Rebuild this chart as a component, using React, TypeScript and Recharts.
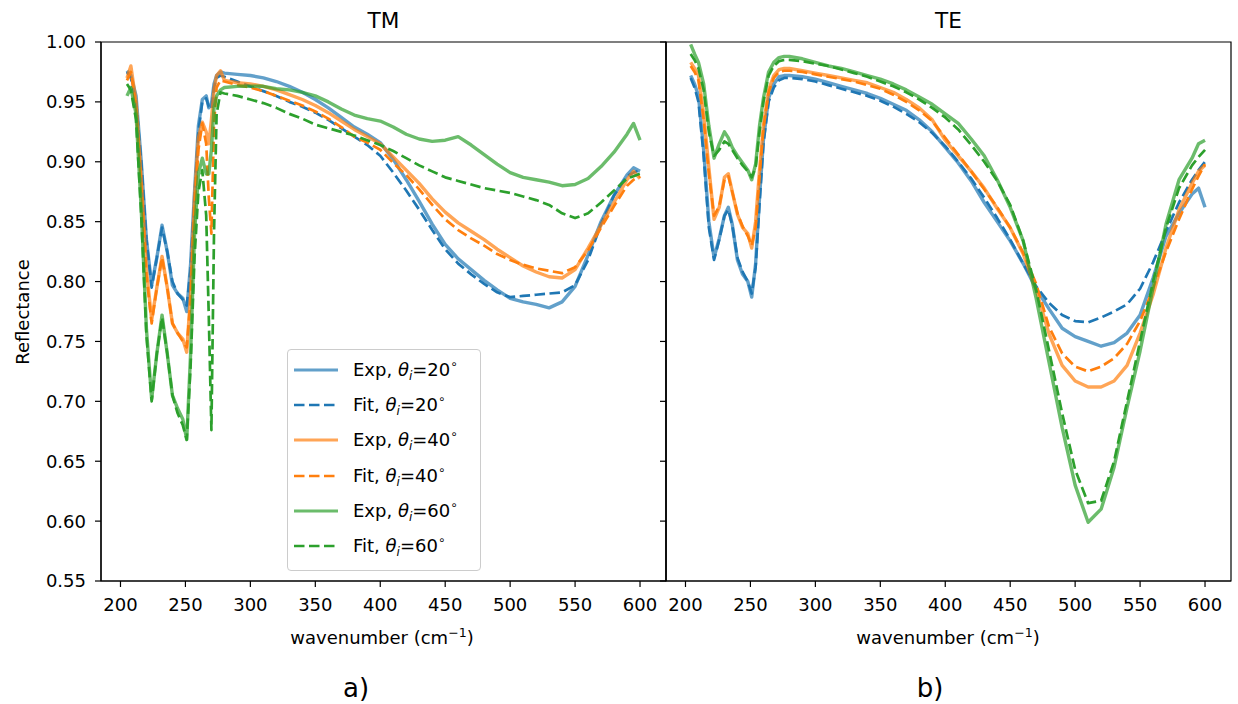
import React from 'react';
import { LineChart, Line, XAxis, YAxis, ReferenceArea, Legend } from 'recharts';

const FONT = '"DejaVu Sans", "Liberation Sans", sans-serif';

// ---------- axes ----------
const X_DOMAIN: [number, number] = [185, 620];
const Y_DOMAIN: [number, number] = [0.55, 1.0];
const xTicks = [200, 250, 300, 350, 400, 450, 500, 550, 600];
const yTicks = [0.55, 0.6, 0.65, 0.7, 0.75, 0.8, 0.85, 0.9, 0.95, 1.0];

// ---------- TM panel (a) ----------
const tmWavenumber = [
  205, 208, 212, 216, 220, 224, 228, 232, 236, 240, 244, 248, 251, 254, 257, 260, 263, 266, 268, 270, 272, 274, 277, 280,
  290, 300, 310, 320, 330, 340, 350, 360, 370, 380, 390, 400, 410, 420, 430, 440, 450, 460, 470, 480, 490, 500, 510, 520,
  530, 540, 550, 560, 570, 580, 590, 595, 600,
];
const tmExp20 = [
  0.976, 0.972, 0.955, 0.9, 0.835, 0.797, 0.82, 0.847, 0.825, 0.797, 0.79, 0.786, 0.775, 0.815, 0.875, 0.93, 0.952, 0.955, 0.945, 0.948, 0.965, 0.972, 0.975, 0.974,
  0.973, 0.972, 0.97, 0.967, 0.963, 0.958, 0.952, 0.945, 0.937, 0.929, 0.923, 0.916, 0.902, 0.885, 0.867, 0.848, 0.831, 0.819, 0.81, 0.801, 0.793, 0.786, 0.783, 0.781,
  0.778, 0.783, 0.796, 0.822, 0.85, 0.872, 0.889, 0.895, 0.892,
];
const tmFit20 = [
  0.975, 0.97, 0.95, 0.9, 0.835, 0.795, 0.82, 0.845, 0.825, 0.8, 0.79, 0.785, 0.78, 0.81, 0.87, 0.925, 0.95, 0.953, 0.946, 0.944, 0.962, 0.97, 0.972, 0.971,
  0.967, 0.963, 0.959, 0.955, 0.95, 0.946, 0.941, 0.935, 0.928, 0.921, 0.914, 0.905, 0.891, 0.876, 0.86, 0.843, 0.827, 0.815, 0.806, 0.798, 0.791, 0.787, 0.788, 0.789,
  0.79, 0.791, 0.797, 0.818, 0.848, 0.872, 0.888, 0.891, 0.893,
];
const tmExp40 = [
  0.97, 0.98, 0.95, 0.885, 0.81, 0.768, 0.795, 0.821, 0.795, 0.765, 0.757, 0.752, 0.741, 0.79, 0.87, 0.92, 0.933, 0.925, 0.915, 0.935, 0.96, 0.972, 0.976, 0.968,
  0.966, 0.965, 0.963, 0.96, 0.956, 0.952, 0.947, 0.941, 0.934, 0.927, 0.921, 0.915, 0.904, 0.893, 0.882, 0.869, 0.858, 0.849, 0.842, 0.835, 0.827, 0.82, 0.813, 0.808,
  0.804, 0.803, 0.81, 0.828, 0.847, 0.866, 0.885, 0.892, 0.886,
];
const tmFit40 = [
  0.968, 0.975, 0.945, 0.88, 0.805, 0.765, 0.795, 0.82, 0.795, 0.765, 0.757, 0.75, 0.745, 0.785, 0.86, 0.91, 0.932, 0.915, 0.87, 0.84, 0.93, 0.962, 0.968, 0.967,
  0.964, 0.962, 0.959, 0.955, 0.951, 0.947, 0.942, 0.936, 0.929, 0.921, 0.916, 0.91, 0.899, 0.889, 0.877, 0.864, 0.852, 0.843, 0.836, 0.83, 0.823, 0.818, 0.814, 0.811,
  0.809, 0.807, 0.812, 0.826, 0.845, 0.863, 0.88, 0.885, 0.888,
];
const tmExp60 = [
  0.955, 0.962, 0.94, 0.86, 0.76, 0.702, 0.74, 0.772, 0.74, 0.705, 0.694, 0.685, 0.668, 0.74, 0.84, 0.89, 0.903, 0.89, 0.89, 0.91, 0.945, 0.955, 0.96, 0.962,
  0.963, 0.963, 0.963, 0.961, 0.96, 0.958, 0.955, 0.95, 0.944, 0.939, 0.936, 0.934, 0.929, 0.923, 0.919, 0.917, 0.918, 0.921, 0.914, 0.906, 0.898, 0.891, 0.887, 0.885,
  0.883, 0.88, 0.881, 0.886, 0.896, 0.908, 0.923, 0.932, 0.918,
];
const tmFit60 = [
  0.965, 0.96, 0.935, 0.855, 0.755, 0.7, 0.74, 0.77, 0.74, 0.705, 0.69, 0.68, 0.668, 0.73, 0.82, 0.875, 0.893, 0.855, 0.77, 0.676, 0.84, 0.94, 0.958, 0.957,
  0.955, 0.952, 0.949, 0.945, 0.94, 0.936, 0.931, 0.928, 0.925, 0.922, 0.918, 0.914, 0.909, 0.903, 0.897, 0.892, 0.887, 0.884, 0.881, 0.878, 0.876, 0.874, 0.871, 0.868,
  0.864, 0.857, 0.853, 0.857, 0.866, 0.876, 0.886, 0.888, 0.89,
];

// ---------- TE panel (b) ----------
const teWavenumber = [
  204, 207, 210, 214, 218, 222, 226, 230, 233, 236, 240, 244, 248, 251, 254, 257, 260, 264, 268, 272, 276, 280,
  290, 300, 310, 320, 330, 340, 350, 360, 370, 380, 390, 400, 410, 420, 430, 440, 450, 460, 470, 480, 490, 500, 510, 520,
  530, 540, 550, 560, 570, 580, 590, 595, 600,
];
const teExp20 = [
  0.972, 0.965, 0.955, 0.91, 0.85, 0.82, 0.836, 0.855, 0.862, 0.848, 0.818, 0.806, 0.8, 0.787, 0.815, 0.87, 0.918, 0.953, 0.965, 0.971, 0.972, 0.972,
  0.971, 0.969, 0.966, 0.963, 0.96, 0.957, 0.953, 0.948, 0.943, 0.935, 0.925, 0.912, 0.899, 0.884, 0.866, 0.85, 0.834, 0.815, 0.794, 0.777, 0.761, 0.754, 0.75, 0.746,
  0.749, 0.757, 0.772, 0.803, 0.838, 0.857, 0.873, 0.878, 0.862,
];
const teFit20 = [
  0.97, 0.962, 0.95, 0.905, 0.845, 0.818, 0.835, 0.855, 0.86, 0.847, 0.82, 0.808, 0.8, 0.79, 0.812, 0.865, 0.915, 0.95, 0.962, 0.968, 0.97, 0.97,
  0.969, 0.967, 0.964, 0.961, 0.958, 0.955, 0.951, 0.946, 0.94, 0.933, 0.924, 0.913, 0.9, 0.886, 0.87, 0.853, 0.835, 0.815, 0.796, 0.782, 0.772, 0.767, 0.766, 0.77,
  0.775, 0.781, 0.794, 0.816, 0.842, 0.866, 0.885, 0.893, 0.9,
];
const teExp40 = [
  0.983, 0.978, 0.972, 0.94, 0.895, 0.852, 0.862, 0.887, 0.89, 0.875, 0.856, 0.845, 0.84, 0.828, 0.85, 0.893, 0.93, 0.96, 0.972, 0.977, 0.978, 0.978,
  0.976, 0.974, 0.972, 0.97, 0.968, 0.966, 0.962, 0.958, 0.952, 0.945, 0.935, 0.918, 0.905, 0.892, 0.878, 0.861, 0.845, 0.823, 0.793, 0.756, 0.73, 0.717, 0.712, 0.712,
  0.717, 0.73, 0.757, 0.789, 0.828, 0.86, 0.882, 0.892, 0.897,
];
const teFit40 = [
  0.98, 0.975, 0.968, 0.935, 0.89, 0.855, 0.863, 0.885, 0.888, 0.875, 0.857, 0.846, 0.838, 0.83, 0.845, 0.888, 0.928, 0.958, 0.97, 0.975, 0.976, 0.976,
  0.975, 0.973, 0.971, 0.969, 0.967, 0.964, 0.961, 0.956, 0.95, 0.943, 0.934, 0.92, 0.906, 0.892, 0.877, 0.862, 0.845, 0.824, 0.798, 0.762, 0.74, 0.729, 0.725, 0.729,
  0.736, 0.748, 0.767, 0.794, 0.825, 0.852, 0.877, 0.888, 0.898,
];
const teExp60 = [
  0.998, 0.99, 0.983, 0.965, 0.93, 0.903, 0.915, 0.925, 0.92, 0.912, 0.905, 0.899, 0.893, 0.885, 0.898, 0.93, 0.953, 0.975, 0.983, 0.987, 0.988, 0.988,
  0.986, 0.983, 0.98, 0.978, 0.975, 0.972, 0.969, 0.965, 0.96, 0.954, 0.948, 0.94, 0.932, 0.919, 0.905, 0.885, 0.862, 0.834, 0.786, 0.732, 0.678, 0.63, 0.599, 0.61,
  0.645, 0.695, 0.742, 0.795, 0.848, 0.885, 0.903, 0.915, 0.918,
];
const teFit60 = [
  0.99, 0.985, 0.978, 0.96, 0.925, 0.905, 0.91, 0.917, 0.915, 0.91, 0.903, 0.897, 0.892, 0.887, 0.895, 0.925, 0.95, 0.972, 0.98, 0.984, 0.985, 0.985,
  0.984, 0.982, 0.98, 0.977, 0.974, 0.971, 0.967, 0.963, 0.958, 0.952, 0.945, 0.937, 0.927, 0.914, 0.9, 0.884, 0.864, 0.834, 0.793, 0.742, 0.69, 0.643, 0.615, 0.617,
  0.65, 0.7, 0.75, 0.8, 0.845, 0.878, 0.897, 0.904, 0.91,
];

const angles = ['20', '40', '60'];
const colors = ['#1f77b4', '#ff7f0e', '#2ca02c'];
const DASH = '10.5 4.5';
const EXP_WIDTH = 3.4;
const FIT_WIDTH = 2.7;

type Row = { [k: string]: number };

function buildRows(xs: number[], e20: number[], f20: number[], e40: number[], f40: number[], e60: number[], f60: number[]): Row[] {
  return xs.map((x, i) => ({
    x,
    exp20: e20[i],
    fit20: f20[i],
    exp40: e40[i],
    fit40: f40[i],
    exp60: e60[i],
    fit60: f60[i],
  }));
}

const tmRows = buildRows(tmWavenumber, tmExp20, tmFit20, tmExp40, tmFit40, tmExp60, tmFit60);
const teRows = buildRows(teWavenumber, teExp20, teFit20, teExp40, teFit40, teExp60, teFit60);

const tickStyle = { fontSize: 18, fill: '#000', fontFamily: FONT };

function AngleLabel({ kind, angle }: { kind: string; angle: string }) {
  return (
    <span style={{ whiteSpace: 'nowrap' }}>
      {kind}, <i>θ</i>
      <sub style={{ fontSize: 12, fontStyle: 'italic', verticalAlign: '-4px', lineHeight: 0 }}>i</sub>
      ={angle}
      <sup style={{ fontSize: 12, verticalAlign: '8px', lineHeight: 0 }}>∘</sup>
    </span>
  );
}

function LegendBox() {
  const rows: { kind: string; angle: string; color: string; dashed: boolean }[] = [];
  angles.forEach((a, i) => {
    rows.push({ kind: 'Exp', angle: a, color: colors[i], dashed: false });
    rows.push({ kind: 'Fit', angle: a, color: colors[i], dashed: true });
  });
  return (
    <div
      style={{
        boxSizing: 'border-box',
        width: 194,
        height: 222,
        border: '1px solid #cccccc',
        borderRadius: 4,
        background: 'rgba(255,255,255,0.8)',
        fontFamily: FONT,
        fontSize: 18,
        color: '#000',
        paddingTop: 2.4,
      }}
    >
      {rows.map((r, i) => (
        <div key={i} style={{ height: 35.2, display: 'flex', alignItems: 'center', lineHeight: 1 }}>
          <svg width={44} height={10} style={{ marginLeft: 6, flex: 'none' }}>
            <line
              x1={0}
              y1={5}
              x2={44}
              y2={5}
              stroke={r.color}
              strokeOpacity={r.dashed ? 1 : 0.7}
              strokeWidth={r.dashed ? FIT_WIDTH : 3}
              strokeDasharray={r.dashed ? DASH : undefined}
            />
          </svg>
          <span style={{ marginLeft: 15 }}>
            <AngleLabel kind={r.kind} angle={r.angle} />
          </span>
        </div>
      ))}
    </div>
  );
}

function Panel(props: {
  rows: Row[];
  left: number;
  width: number;
  margin: { top: number; right: number; bottom: number; left: number };
  yWidth: number;
  showYLabels: boolean;
  showLegend: boolean;
}) {
  const { rows, left, width, margin, yWidth, showYLabels, showLegend } = props;
  return (
    <div style={{ position: 'absolute', left, top: 0 }}>
      <LineChart width={width} height={704} data={rows} margin={margin} style={{ fontFamily: FONT }}>
        <XAxis
          dataKey="x"
          type="number"
          domain={X_DOMAIN}
          ticks={xTicks}
          interval={0}
          allowDataOverflow
          height={40}
          tickSize={6}
          tickMargin={11}
          tick={tickStyle}
          tickLine={{ stroke: '#000', strokeWidth: 1.2 }}
          axisLine={{ stroke: '#000', strokeWidth: 1.2 }}
        />
        <YAxis
          type="number"
          domain={Y_DOMAIN}
          ticks={yTicks}
          interval={0}
          allowDataOverflow
          width={yWidth}
          tickSize={6}
          tickMargin={9}
          tick={showYLabels ? tickStyle : () => <g />}
          tickFormatter={(v: number) => v.toFixed(2)}
          tickLine={{ stroke: '#000', strokeWidth: 1.2 }}
          axisLine={{ stroke: '#000', strokeWidth: 1.2 }}
        />
        {angles.map((a, i) => [
          <Line
            key={'exp' + a}
            type="linear"
            dataKey={'exp' + a}
            stroke={colors[i]}
            strokeOpacity={0.7}
            strokeWidth={EXP_WIDTH}
            strokeLinejoin="round"
            dot={false}
            activeDot={false}
            isAnimationActive={false}
          />,
          <Line
            key={'fit' + a}
            type="linear"
            dataKey={'fit' + a}
            stroke={colors[i]}
            strokeWidth={FIT_WIDTH}
            strokeDasharray={DASH}
            strokeLinejoin="round"
            dot={false}
            activeDot={false}
            isAnimationActive={false}
          />,
        ])}
        <ReferenceArea
          x1={X_DOMAIN[0]}
          x2={X_DOMAIN[1]}
          y1={Y_DOMAIN[0]}
          y2={Y_DOMAIN[1]}
          fill="#ffffff"
          fillOpacity={0}
          stroke="#000"
          strokeWidth={1.2}
          ifOverflow="visible"
        />
        {showLegend && (
          <Legend
            layout="vertical"
            align="center"
            verticalAlign="middle"
            wrapperStyle={{ left: 287, top: 349, width: 194 }}
            content={() => <LegendBox />}
          />
        )}
      </LineChart>
    </div>
  );
}

const abs = (style: React.CSSProperties): React.CSSProperties => ({
  position: 'absolute',
  whiteSpace: 'nowrap',
  lineHeight: 1,
  color: '#000',
  fontFamily: FONT,
  ...style,
});

export default function App() {
  return (
    <div style={{ position: 'absolute', left: 0, top: 0, width: 1238, height: 704, background: '#fff', fontFamily: FONT, overflow: 'hidden' }}>
      <Panel
        rows={tmRows}
        left={0}
        width={680}
        margin={{ top: 42, right: 14, bottom: 83, left: 41 }}
        yWidth={60}
        showYLabels
        showLegend
      />
      <Panel
        rows={teRows}
        left={600}
        width={638}
        margin={{ top: 42, right: 7, bottom: 83, left: 65 }}
        yWidth={1}
        showYLabels={false}
        showLegend={false}
      />
      <div style={abs({ left: 383.5, top: 9.7, fontSize: 21.6, transform: 'translateX(-50%)' })}>TM</div>
      <div style={abs({ left: 948.5, top: 9.7, fontSize: 21.6, transform: 'translateX(-50%)' })}>TE</div>
      <div style={abs({ left: 382, top: 629, fontSize: 18, transform: 'translateX(-50%)' })}>
        wavenumber (cm<sup style={{ fontSize: 12.6, verticalAlign: '7px', lineHeight: 0 }}>−1</sup>)
      </div>
      <div style={abs({ left: 948, top: 629, fontSize: 18, transform: 'translateX(-50%)' })}>
        wavenumber (cm<sup style={{ fontSize: 12.6, verticalAlign: '7px', lineHeight: 0 }}>−1</sup>)
      </div>
      <div style={abs({ left: 23, top: 311.5, fontSize: 18, transform: 'translate(-50%, -50%) rotate(-90deg)' })}>Reflectance</div>
      <div style={abs({ left: 356, top: 674.6, fontSize: 26, transform: 'translateX(-50%)' })}>a)</div>
      <div style={abs({ left: 930, top: 674.6, fontSize: 26, transform: 'translateX(-50%)' })}>b)</div>
    </div>
  );
}
